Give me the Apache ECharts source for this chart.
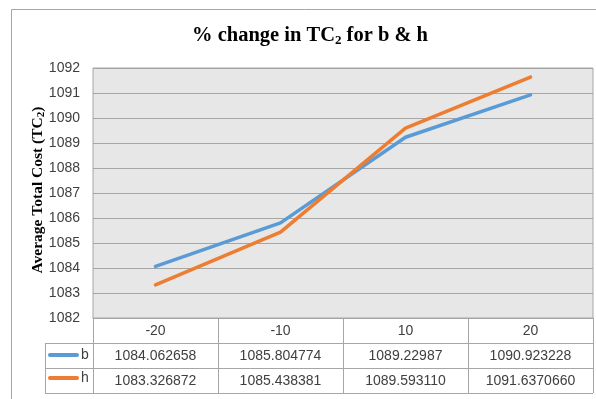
<!DOCTYPE html>
<html>
<head>
<meta charset="utf-8">
<script src="https://cdn.jsdelivr.net/npm/echarts@6/dist/echarts.min.js"></script>
<style>
  html, body { margin: 0; padding: 0; background: #fff; }
  #main { width: 596px; height: 399px; }
</style>
</head>
<body>
<div id="main"></div>
<script>
// data, as printed in the table under the chart
var categories = ['-20', '-10', '10', '20'];
var bText = ['1084.062658', '1085.804774', '1089.22987', '1090.923228'];
var hText = ['1083.326872', '1085.438381', '1089.593110', '1091.6370660'];
var yMin = 1082, yMax = 1092, yStep = 1;

var bValues = bText.map(Number);
var hValues = hText.map(Number);

var cellFont = 'Liberation Sans';
var serifFont = 'Liberation Serif';
var lineGray = '#a6a6a6';

//表格里的一行数值，借用一条没有轴线的横轴来放
var tableRow = function (labels, offset) {
    return {
        type: 'category',
        gridIndex: 0,
        position: 'bottom',
        offset: offset,
        data: labels,
        axisLine: { show: false },
        axisTick: { show: false },
        axisLabel: {
            interval: 0,
            margin: 6,
            color: '#404040',
            fontFamily: cellFont,
            fontSize: 14
        }
    };
};

var chart = echarts.init(document.getElementById('main'));

chart.setOption({
    animation: false,
    title: {
        text: '% change in TC{sub|2} for b & h',
        left: 192,
        top: 24,
        padding: 0,
        textStyle: {
            fontFamily: serifFont,
            fontWeight: 'bold',
            fontSize: 20.5,
            color: '#000',
            rich: {
                sub: { fontFamily: serifFont, fontWeight: 'bold', fontSize: 13, verticalAlign: 'bottom', padding: [10, 0, 0, 0], color: '#000' }
            }
        }
    },
    legend: {
        orient: 'vertical',
        left: 48,
        top: 348,
        padding: 0,
        itemWidth: 31,
        itemHeight: 5,
        itemGap: 9,
        icon: 'path://M2,0 L30,0 A2,2 0 0 1 30,4 L2,4 A2,2 0 0 1 2,0 Z',
        textStyle: { fontFamily: cellFont, fontSize: 14, color: '#404040', padding: [0, 0, 0, -3] },
        data: ['b', 'h']
    },
    grid: {
        left: 93,
        right: 3,
        top: 68,
        height: 250,
        show: true,
        backgroundColor: '#e7e7e7',
        borderColor: lineGray,
        borderWidth: 1
    },
    xAxis: [
        {
            type: 'category',
            data: categories,
            boundaryGap: true,
            axisLine: { lineStyle: { color: lineGray } },
            axisTick: { show: true, length: 75, lineStyle: { color: lineGray } },
            axisLabel: { margin: 6, color: '#404040', fontFamily: cellFont, fontSize: 14 }
        },
        tableRow(bText, 25),
        tableRow(hText, 50)
    ],
    yAxis: {
        type: 'value',
        min: yMin,
        max: yMax,
        interval: yStep,
        axisLine: { show: false },
        axisTick: { show: false },
        axisLabel: {
            margin: 13,
            color: '#404040',
            fontFamily: cellFont,
            fontSize: 14,
            formatter: function (v) { return String(v); }
        },
        splitLine: { lineStyle: { color: lineGray, width: 1.2 } }
    },
    series: [
        {
            name: 'b',
            type: 'line',
            data: bValues,
            showSymbol: false,
            symbol: 'none',
            color: '#5b9bd5',
            lineStyle: { width: 3.5, cap: 'round', join: 'round' }
        },
        {
            name: 'h',
            type: 'line',
            data: hValues,
            showSymbol: false,
            symbol: 'none',
            color: '#ed7d31',
            lineStyle: { width: 3.5, cap: 'round', join: 'round' }
        }
    ],
    graphic: [
        // chart frame
        { type: 'rect', silent: true, shape: { x: 11.5, y: 9.5, width: 620, height: 420 }, style: { fill: 'none', stroke: lineGray, lineWidth: 1 } },
        // y axis title
        {
            type: 'text',
            silent: true,
            x: 38,
            y: 190,
            rotation: Math.PI / 2,
            style: {
                text: 'Average Total Cost (TC{sub|2})',
                align: 'center',
                verticalAlign: 'middle',
                fontFamily: serifFont,
                fontWeight: 'bold',
                fontSize: 15.5,
                fill: '#000',
                rich: {
                    sub: { fontFamily: serifFont, fontWeight: 'bold', fontSize: 11, verticalAlign: 'bottom', padding: [7, 0, 0, 0], fill: '#000' }
                }
            }
        },
        // table rules
        { type: 'line', silent: true, shape: { x1: 45, y1: 343.5, x2: 593, y2: 343.5 }, style: { stroke: lineGray, lineWidth: 1 } },
        { type: 'line', silent: true, shape: { x1: 45, y1: 368.5, x2: 593, y2: 368.5 }, style: { stroke: lineGray, lineWidth: 1 } },
        { type: 'line', silent: true, shape: { x1: 45, y1: 393.5, x2: 593, y2: 393.5 }, style: { stroke: lineGray, lineWidth: 1 } },
        { type: 'line', silent: true, shape: { x1: 45.5, y1: 343, x2: 45.5, y2: 394 }, style: { stroke: lineGray, lineWidth: 1 } }
    ]
});
</script>
</body>
</html>
